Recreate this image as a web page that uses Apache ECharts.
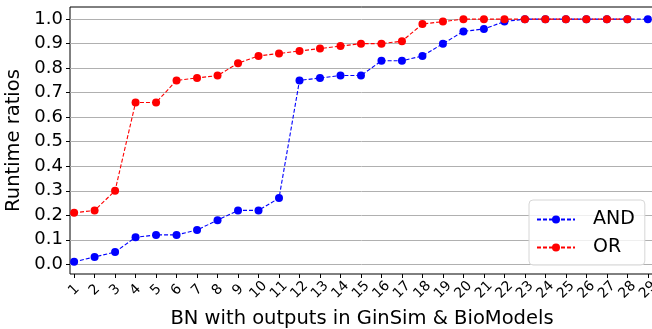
<!DOCTYPE html>
<html>
<head>
<meta charset="utf-8">
<script src="https://cdn.jsdelivr.net/npm/echarts@6/dist/echarts.min.js"></script>
<style>
    html, body { margin: 0; padding: 0; background: #fff; }
    #chart { width: 652px; height: 329px; }
</style>
</head>
<body>
<div id="chart"></div>
<script>
// BN ids on the x axis
const bnIds = [1, 2, 3, 4, 5, 6, 7, 8, 9, 10, 11, 12, 13, 14, 15, 16, 17, 18, 19, 20, 21, 22, 23, 24, 25, 26, 27, 28, 29];
const andRatios = [0.01, 0.03, 0.05, 0.11, 0.12, 0.12, 0.14, 0.18, 0.22, 0.22, 0.27, 0.75, 0.76, 0.77, 0.77, 0.83, 0.83, 0.85, 0.90, 0.95, 0.96, 0.99, 1.0, 1.0, 1.0, 1.0, 1.0, 1.0, 1.0];
const orRatios = [0.21, 0.22, 0.30, 0.66, 0.66, 0.75, 0.76, 0.77, 0.82, 0.85, 0.86, 0.87, 0.88, 0.89, 0.90, 0.90, 0.91, 0.98, 0.99, 1.0, 1.0, 1.0, 1.0, 1.0, 1.0, 1.0, 1.0, 1.0];
const yTicks = [0, 0.1, 0.2, 0.3, 0.4, 0.5, 0.6, 0.7, 0.8, 0.9, 1.0];

const font = 'DejaVu Sans';
const pairs = (vals) => vals.map((v, i) => [bnIds[i], v]);

const chart = echarts.init(document.getElementById('chart'), null, { renderer: 'canvas' });

function lineSeries(name, color, vals) {
    return {
        name: name,
        type: 'line',
        data: pairs(vals),
        symbol: 'circle',
        symbolSize: 8,
        showSymbol: true,
        animation: false,
        itemStyle: { color: color },
        lineStyle: { color: color, width: 1.1, type: [4, 2] },
        emphasis: { disabled: true }
    };
}

const option = {
    animation: false,
    textStyle: { fontFamily: font },
    grid: {
        left: 70, right: -2, top: 7, bottom: 55,
        containLabel: false,
        outerBoundsMode: 'none',
        show: true, borderColor: '#000', borderWidth: 1, backgroundColor: 'transparent'
    },
    xAxis: {
        type: 'value',
        min: 0.8,
        max: 29.3,
        name: 'BN with outputs in GinSim & BioModels',
        nameLocation: 'middle',
        nameGap: 35,
        nameTextStyle: { fontSize: 19.5, color: '#000', fontFamily: font },
        axisLine: { show: false, onZero: false },
        axisTick: { show: true, length: 4, customValues: bnIds, lineStyle: { color: '#000' } },
        axisLabel: {
            customValues: bnIds,
            rotate: 45,
            align: 'center',
            verticalAlign: 'middle',
            margin: 16,
            fontSize: 14,
            color: '#000',
            fontFamily: font
        },
        splitLine: { show: false }
    },
    yAxis: {
        type: 'value',
        min: -0.0395,
        max: 1.0495,
        name: 'Runtime ratios',
        nameLocation: 'middle',
        nameGap: 40,
        nameTextStyle: { fontSize: 19.5, color: '#000', fontFamily: font },
        axisLine: { show: false, onZero: false },
        axisTick: { show: true, length: 4, customValues: yTicks, lineStyle: { color: '#000' } },
        axisLabel: {
            customValues: yTicks,
            margin: 7,
            fontSize: 18,
            color: '#000',
            fontFamily: font,
            formatter: (v) => v.toFixed(1)
        },
        splitLine: { show: true, lineStyle: { color: '#b0b0b0', width: 1 } }
    },
    legend: {
        orient: 'vertical',
        left: 529,
        top: 200,
        padding: [10, 10, 8, 7],
        itemWidth: 38,
        itemHeight: 10,
        itemGap: 9,
        borderColor: '#d6d6d6',
        borderWidth: 1,
        borderRadius: 4,
        backgroundColor: 'rgba(255,255,255,0.8)',
        textStyle: { fontSize: 19, color: '#000', fontFamily: font, padding: [0, 0, 0, 13] },
        data: ['AND', 'OR']
    },
    series: [
        lineSeries('AND', '#0000ff', andRatios),
        lineSeries('OR', '#ff0000', orRatios)
    ]
};

chart.setOption(option);
</script>
</body>
</html>
